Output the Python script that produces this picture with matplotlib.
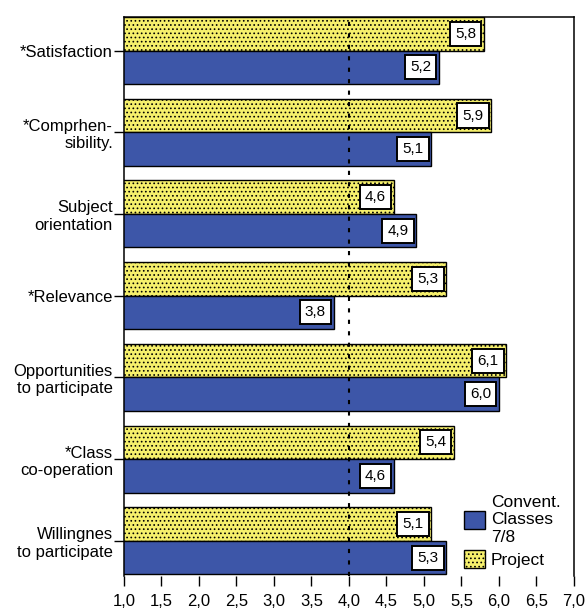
import matplotlib.pyplot as plt
from matplotlib.patches import Patch

plt.rcParams['font.family'] = ['Liberation Sans', 'DejaVu Sans']
plt.rcParams['hatch.linewidth'] = 0.7

# --- Data ---------------------------------------------------------------
categories = [
    "*Satisfaction",
    "*Comprhen-\nsibility.",
    "Subject\norientation",
    "*Relevance",
    "Opportunities\nto participate",
    "*Class\nco-operation",
    "Willingnes\nto participate",
]
project = [5.8, 5.9, 4.6, 5.3, 6.1, 5.4, 5.1]
convent = [5.2, 5.1, 4.9, 3.8, 6.0, 4.6, 5.3]
x_ticks = [1.0, 1.5, 2.0, 2.5, 3.0, 3.5, 4.0, 4.5, 5.0, 5.5, 6.0, 6.5, 7.0]
series_names = ["Convent.\nClasses\n7/8", "Project"]

BLUE = "#3d56a8"
YELLOW = "#f6f06c"
BAR_H = 0.41


def fmt(v):
    return f"{v:.1f}".replace(".", ",")


fig = plt.figure(figsize=(5.86, 6.08), dpi=100)
ax = fig.add_axes([0.2116, 0.0526, 0.9795 - 0.2116, 0.972 - 0.0526])

pos = list(range(len(categories)))
ax.barh([p - BAR_H / 2 for p in pos], project, height=BAR_H,
        color=YELLOW, edgecolor="black", hatch="....", linewidth=1.0, zorder=2)
ax.barh([p + BAR_H / 2 for p in pos], convent, height=BAR_H,
        color=BLUE, edgecolor="black", linewidth=1.0, zorder=2)

ax.axvline(4.0, color="black", linestyle=(0, (2, 3.5)), lw=1.5, zorder=3)

# value boxes near bar ends
box = dict(boxstyle="square,pad=0.33", fc="white", ec="black", lw=1.4)
for p, pv, cv in zip(pos, project, convent):
    ax.annotate(fmt(pv), xy=(pv, p - BAR_H / 2), xytext=(-8, 0),
                textcoords="offset pixels", ha="right", va="center",
                fontsize=11, bbox=box, zorder=5)
    ax.annotate(fmt(cv), xy=(cv, p + BAR_H / 2), xytext=(-8, 0),
                textcoords="offset pixels", ha="right", va="center",
                fontsize=11, bbox=box, zorder=5)

ax.set_xlim(1.0, 7.0)
ax.set_ylim(6 + BAR_H + 0.02, -BAR_H)
ax.set_xticks(x_ticks)
ax.set_xticklabels([fmt(t) for t in x_ticks], fontsize=12)
ax.set_yticks(pos)
ax.set_yticklabels(categories, fontsize=12, ha="right", multialignment="right")

ax.tick_params(axis="x", direction="out", length=7, width=1.0, pad=6)
ax.tick_params(axis="y", direction="out", length=7, width=1.0, pad=1)
ax.spines["bottom"].set_visible(False)
for s in ("left", "top", "right"):
    ax.spines[s].set_linewidth(1.1)

handles = [
    Patch(facecolor=BLUE, edgecolor="black", linewidth=1.0),
    Patch(facecolor=YELLOW, edgecolor="black", hatch="....", linewidth=1.0),
]
ax.legend(handles, series_names, loc="lower left", bbox_to_anchor=(0.755, 0.015),
          frameon=False, fontsize=12.5, handlelength=1.2, handleheight=1.2,
          handletextpad=0.35, labelspacing=0.3, borderpad=0, borderaxespad=0)

fig.savefig("out.png", dpi=100)
